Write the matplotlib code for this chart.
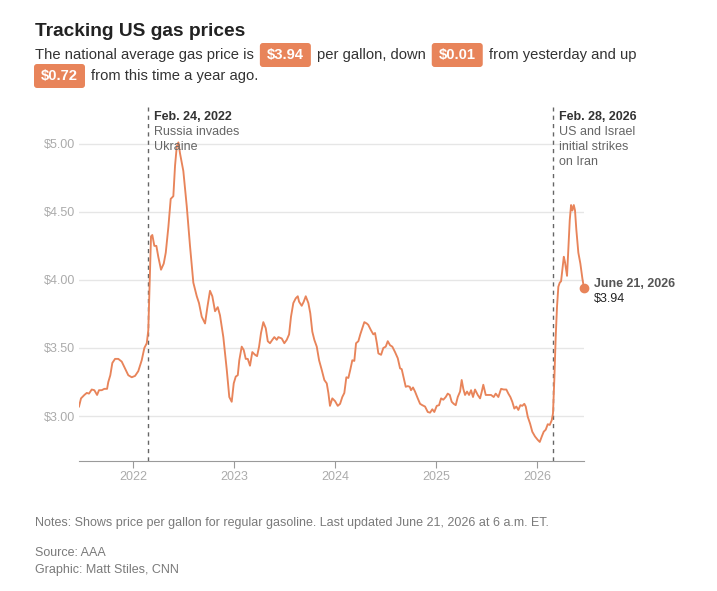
import matplotlib
matplotlib.use('Agg')
import matplotlib.pyplot as plt
from matplotlib.patches import FancyBboxPatch

# ======================== Data ========================
# decimal year of each sample, June 21 2021 -> June 21 2026
years = [
    2021.465, 2021.485, 2021.518, 2021.542, 2021.564, 2021.591, 2021.617, 2021.644, 2021.663, 2021.690,
    2021.716, 2021.743, 2021.755, 2021.775, 2021.795, 2021.822, 2021.854, 2021.888, 2021.921, 2021.953,
    2021.987, 2022.020, 2022.052, 2022.086, 2022.112, 2022.136, 2022.151, 2022.165, 2022.178, 2022.191,
    2022.211, 2022.231, 2022.250, 2022.277, 2022.304, 2022.324, 2022.350, 2022.373, 2022.399, 2022.416,
    2022.433, 2022.449, 2022.465, 2022.498, 2022.532, 2022.564, 2022.597, 2022.631, 2022.653, 2022.680,
    2022.713, 2022.736, 2022.762, 2022.785, 2022.812, 2022.839, 2022.861, 2022.894, 2022.928, 2022.953,
    2022.977, 2022.997, 2023.017, 2023.037, 2023.052, 2023.076, 2023.096, 2023.116, 2023.136, 2023.158,
    2023.181, 2023.208, 2023.228, 2023.248, 2023.267, 2023.290, 2023.314, 2023.334, 2023.356, 2023.379,
    2023.399, 2023.423, 2023.439, 2023.472, 2023.498, 2023.522, 2023.545, 2023.564, 2023.587, 2023.611,
    2023.631, 2023.644, 2023.670, 2023.690, 2023.710, 2023.736, 2023.755, 2023.775, 2023.795, 2023.819,
    2023.842, 2023.868, 2023.894, 2023.918, 2023.934, 2023.950, 2023.973, 2024.000, 2024.027, 2024.050,
    2024.072, 2024.092, 2024.112, 2024.132, 2024.151, 2024.171, 2024.191, 2024.208, 2024.231, 2024.250,
    2024.270, 2024.290, 2024.314, 2024.329, 2024.356, 2024.379, 2024.396, 2024.413, 2024.429, 2024.456,
    2024.478, 2024.502, 2024.522, 2024.545, 2024.567, 2024.594, 2024.621, 2024.644, 2024.660, 2024.680,
    2024.700, 2024.720, 2024.740, 2024.752, 2024.772, 2024.792, 2024.819, 2024.842, 2024.864, 2024.891,
    2024.918, 2024.941, 2024.963, 2024.983, 2025.007, 2025.030, 2025.050, 2025.072, 2025.096, 2025.116,
    2025.136, 2025.155, 2025.175, 2025.195, 2025.215, 2025.238, 2025.254, 2025.270, 2025.287, 2025.307,
    2025.327, 2025.347, 2025.366, 2025.386, 2025.413, 2025.436, 2025.453, 2025.468, 2025.492, 2025.518,
    2025.545, 2025.571, 2025.591, 2025.617, 2025.644, 2025.670, 2025.696, 2025.716, 2025.736, 2025.755,
    2025.775, 2025.795, 2025.815, 2025.835, 2025.854, 2025.874, 2025.888, 2025.908, 2025.931, 2025.953,
    2025.980, 2026.007, 2026.027, 2026.047, 2026.066, 2026.086, 2026.106, 2026.126, 2026.146, 2026.158,
    2026.171, 2026.185, 2026.198, 2026.211, 2026.225, 2026.238, 2026.251, 2026.265, 2026.277, 2026.297,
    2026.310, 2026.324, 2026.337, 2026.350, 2026.364, 2026.376, 2026.389, 2026.409, 2026.429, 2026.449,
    2026.465]

# national average price per gallon, regular gasoline ($)
price = [
    3.07, 3.13, 3.155, 3.17, 3.165, 3.195, 3.19, 3.155, 3.19, 3.19,
    3.20, 3.20, 3.25, 3.30, 3.39, 3.42, 3.42, 3.40, 3.35, 3.30,
    3.285, 3.295, 3.33, 3.41, 3.50, 3.535, 3.63, 4.00, 4.32, 4.33,
    4.25, 4.25, 4.17, 4.075, 4.12, 4.20, 4.39, 4.595, 4.615, 4.84,
    4.98, 5.01, 4.93, 4.80, 4.54, 4.25, 3.98, 3.88, 3.83, 3.73,
    3.68, 3.80, 3.92, 3.88, 3.77, 3.80, 3.74, 3.58, 3.34, 3.14,
    3.105, 3.24, 3.29, 3.30, 3.41, 3.51, 3.485, 3.42, 3.42, 3.37,
    3.47, 3.45, 3.44, 3.51, 3.61, 3.69, 3.645, 3.55, 3.535, 3.56,
    3.58, 3.56, 3.58, 3.57, 3.535, 3.56, 3.60, 3.73, 3.83, 3.865,
    3.88, 3.84, 3.81, 3.84, 3.88, 3.83, 3.755, 3.62, 3.56, 3.51,
    3.41, 3.34, 3.265, 3.24, 3.17, 3.075, 3.13, 3.11, 3.075, 3.09,
    3.14, 3.17, 3.285, 3.28, 3.34, 3.41, 3.405, 3.535, 3.55, 3.60,
    3.645, 3.69, 3.68, 3.67, 3.63, 3.60, 3.61, 3.54, 3.46, 3.45,
    3.50, 3.51, 3.55, 3.52, 3.51, 3.47, 3.425, 3.35, 3.345, 3.28,
    3.215, 3.22, 3.215, 3.19, 3.21, 3.18, 3.13, 3.09, 3.08, 3.07,
    3.03, 3.025, 3.05, 3.03, 3.075, 3.08, 3.13, 3.12, 3.14, 3.165,
    3.155, 3.105, 3.09, 3.08, 3.14, 3.18, 3.265, 3.20, 3.155, 3.18,
    3.155, 3.19, 3.14, 3.195, 3.155, 3.13, 3.18, 3.23, 3.155, 3.155,
    3.155, 3.14, 3.165, 3.14, 3.20, 3.195, 3.195, 3.165, 3.14, 3.105,
    3.055, 3.07, 3.045, 3.08, 3.075, 3.09, 3.07, 2.995, 2.945, 2.885,
    2.85, 2.825, 2.81, 2.85, 2.885, 2.90, 2.94, 2.935, 2.97, 3.02,
    3.265, 3.585, 3.805, 3.95, 3.98, 3.99, 4.075, 4.17, 4.13, 4.03,
    4.22, 4.44, 4.55, 4.51, 4.55, 4.51, 4.37, 4.20, 4.12, 4.01,
    3.94]

year_ticks = [2022, 2023, 2024, 2025, 2026]
price_ticks = [3.00, 3.50, 4.00, 4.50, 5.00]
price_tick_labels = ['\\$3.00', '\\$3.50', '\\$4.00', '\\$4.50', '\\$5.00']

# events marked with dashed lines
event_years = [2022.148, 2026.159]
event_dates = ['Feb. 24, 2022', 'Feb. 28, 2026']
event_texts = [['Russia invades', 'Ukraine'], ['US and Israel', 'initial strikes', 'on Iran']]

last_date = 'June 21, 2026'

# ======================== Styles ==============================
ORANGE = '#e8845a'
W, H = 717, 591
plt.rcParams['font.family'] = ['Liberation Sans', 'DejaVu Sans']

fig = plt.figure(figsize=(W / 100, H / 100), dpi=100)
fig.patch.set_facecolor('white')
ax = fig.add_axes([79 / W, 1 - 461 / H, (584 - 79) / W, (461 - 107) / H])

#----------------------------------------------------------------------------#
#                                 Plot
#----------------------------------------------------------------------------#
ax.plot(years, price, color=ORANGE, lw=1.35, solid_joinstyle='round', zorder=3)
ax.plot(years[-1], price[-1], 'o', color=ORANGE, ms=6, zorder=4, clip_on=False)

ax.set_xlim(years[0], years[-1])
ax.set_ylim(2.67, 5.27)
ax.set_xticks(year_ticks)
ax.set_xticklabels([str(y) for y in year_ticks])
ax.set_yticks(price_ticks)
ax.set_yticklabels(price_tick_labels)
ax.grid(axis='y', color='#e6e6e6', lw=1)
ax.set_axisbelow(True)
for s in ['top', 'right', 'left']:
    ax.spines[s].set_visible(False)
ax.spines['bottom'].set_color('#9a9a9a')
ax.tick_params(axis='y', length=0, pad=3, labelsize=9, labelcolor='#ababab')
ax.tick_params(axis='x', length=5, color='#9a9a9a', pad=2, labelsize=9, labelcolor='#ababab')

# event lines + notes
for ey, ed, et in zip(event_years, event_dates, event_texts):
    ax.axvline(ey, ymin=0, ymax=1, color='#666666', lw=1, ls=(0, (3, 3)), zorder=2)
    ax.annotate(ed, xy=(ey, 1), xycoords=('data', 'axes fraction'), xytext=(6, -10),
                textcoords='offset pixels', fontsize=9, fontweight='bold', color='#333333', va='center')
    for i, line in enumerate(et):
        ax.annotate(line, xy=(ey, 1), xycoords=('data', 'axes fraction'), xytext=(6, -25 - 15 * i),
                    textcoords='offset pixels', fontsize=9, color='#666666', va='center')

# last value label
ax.annotate(last_date, xy=(years[-1], price[-1]), xytext=(10, 4), textcoords='offset pixels',
            fontsize=9, fontweight='bold', color='#555555', va='center', annotation_clip=False)
ax.annotate('\\$%.2f' % price[-1], xy=(years[-1], price[-1]), xytext=(10, -11), textcoords='offset pixels',
            fontsize=9, color='#222222', va='center', annotation_clip=False)

#----------------------------------------------------------------------------#
#                          Title, subtitle and notes
#----------------------------------------------------------------------------#
fig.text(35 / W, 1 - 31 / H, 'Tracking US gas prices', fontsize=13.8, fontweight='bold',
         color='#222222', va='center')

renderer = fig.canvas.get_renderer()

def sentence(x, y, parts):
    """writes text pieces left to right, values get an orange badge"""
    for txt, badge in parts:
        if badge:
            x += 13
        t = fig.text(x / W, 1 - y / H, txt, fontsize=10.6, va='center', zorder=3,
                     color='white' if badge else '#333333',
                     fontweight='bold' if badge else 'normal')
        bb = t.get_window_extent(renderer)
        if badge:
            fig.patches.append(FancyBboxPatch((bb.x0 - 7, H - y - 12), bb.width + 14, 24,
                                              boxstyle='round,pad=0,rounding_size=3',
                                              transform=None, fc=ORANGE, ec='none', zorder=1))
            x += bb.width + 13
        else:
            x += bb.width

sentence(35, 55, [('The national average gas price is', False), ('\\$3.94', True),
                  ('per gallon, down', False), ('\\$0.01', True),
                  ('from yesterday and up', False)])
sentence(28, 76, [('\\$0.72', True), ('from this time a year ago.', False)])

fig.text(35 / W, 1 - 523 / H,
         'Notes: Shows price per gallon for regular gasoline. Last updated June 21, 2026 at 6 a.m. ET.',
         fontsize=9, color='#7a7a7a', va='center')
fig.text(35 / W, 1 - 553 / H, 'Source: AAA', fontsize=9, color='#7a7a7a', va='center')
fig.text(35 / W, 1 - 570 / H, 'Graphic: Matt Stiles, CNN', fontsize=9, color='#7a7a7a', va='center')

fig.savefig('out.png', dpi=100)
